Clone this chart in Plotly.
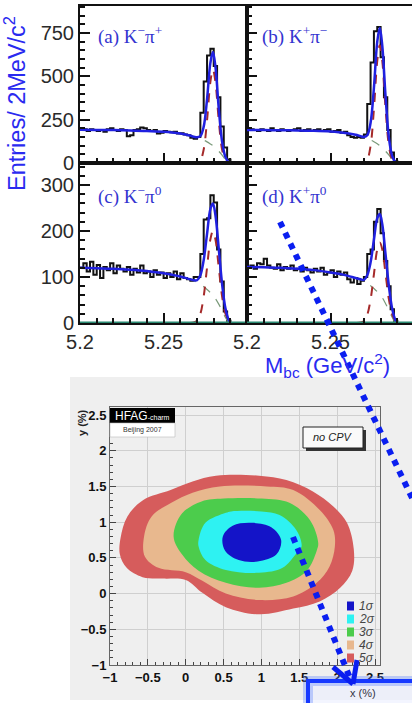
import plotly.graph_objects as go

W, H = 412, 703

# ---------------- data: Mbc histograms (2 MeV bins from 5.200) ----------------
bin_lo = 5.200
bin_w = 0.002
n_bins = 50

counts_a = [200, 195, 185, 195, 190, 185, 190, 180, 195, 200,
            190, 185, 195, 190, 155, 160, 190, 195, 205, 200,
            190, 185, 190, 170, 175, 185, 180, 178, 180, 170,
            172, 165, 160, 145, 140,
            150, 290, 470, 620, 660, 560, 380, 210, 90, 20,
            0, 0, 0, 0, 0]
counts_b = [190, 195, 190, 185, 195, 190, 185, 200, 190, 185,
            195, 190, 185, 190, 195, 200, 185, 190, 195, 185,
            190, 195, 185, 190, 195, 180, 185, 190, 175, 180,
            160, 150, 145, 150, 145,
            165, 340, 580, 760, 785, 610, 380, 190, 60, 10,
            0, 0, 0, 0, 0]
counts_c = [120, 130, 112, 133, 105, 126, 98, 122, 115, 130,
            108, 125, 118, 112, 122, 105, 118, 110, 125, 108,
            112, 100, 115, 105, 110, 98, 108, 100, 112, 95,
            108, 98, 95, 92, 100,
            100, 150, 225, 228, 278, 262, 160, 90, 25, 5,
            0, 0, 0, 0, 0]
counts_d = [120, 125, 118, 130, 128, 140, 125, 120, 118, 128,
            115, 122, 118, 125, 115, 118, 112, 120, 115, 110,
            118, 112, 120, 105, 110, 115, 100, 112, 105, 110,
            95, 88, 98, 85, 92,
            100, 150, 160, 220, 248, 195, 135, 80, 30, 5,
            0, 0, 0, 0, 0]

# ---------------- fit curves ----------------
fit_x = [5.200, 5.210, 5.220, 5.230, 5.240, 5.250, 5.255, 5.260, 5.265, 5.268,
         5.270, 5.272, 5.274, 5.276, 5.278, 5.2795, 5.281, 5.283, 5.285, 5.287,
         5.289, 5.290]

bkg_a = [192, 191, 190, 188, 185, 180, 176, 170, 160, 152, 146, 140, 132, 122, 110, 100, 88, 68, 45, 20, 2, 0]
sig_a = [0, 0, 0, 0, 0, 0, 0, 0, 0, 0, 2, 15, 78, 247, 468, 540, 468, 247, 78, 15, 2, 0]
tot_a = [192, 191, 190, 188, 185, 180, 176, 170, 160, 152, 148, 155, 210, 369, 578, 640, 556, 315, 123, 35, 4, 0]

bkg_b = [190, 190, 189, 188, 186, 182, 178, 172, 163, 155, 148, 141, 133, 123, 111, 100, 88, 68, 45, 20, 2, 0]
sig_b = [0, 0, 0, 0, 0, 0, 0, 0, 0, 0, 2, 19, 99, 311, 589, 680, 589, 311, 99, 19, 2, 0]
tot_b = [190, 190, 189, 188, 186, 182, 178, 172, 163, 155, 150, 160, 232, 434, 700, 780, 677, 379, 144, 39, 4, 0]

bkg_c = [120, 119, 118, 116, 113, 108, 105, 101, 96, 92, 88, 84, 79, 73, 66, 60, 53, 41, 27, 12, 1, 0]
sig_c = [0, 0, 0, 0, 0, 0, 0, 0, 0, 1, 5, 20, 58, 121, 182, 200, 182, 121, 58, 20, 5, 0]
tot_c = [120, 119, 118, 116, 113, 108, 105, 101, 96, 93, 93, 104, 137, 194, 248, 260, 235, 162, 85, 32, 6, 0]

bkg_d = [122, 121, 120, 118, 115, 110, 107, 103, 98, 94, 90, 86, 81, 75, 68, 62, 55, 42, 28, 12, 1, 0]
sig_d = [0, 0, 0, 0, 0, 0, 0, 0, 0, 1, 4, 18, 51, 106, 160, 175, 160, 106, 51, 18, 4, 0]
tot_d = [122, 121, 120, 118, 115, 110, 107, 103, 98, 95, 94, 104, 132, 181, 228, 237, 215, 148, 79, 30, 5, 0]

panel_labels = ["(a) K<sup>−</sup>π<sup>+</sup>", "(b) K<sup>+</sup>π<sup>−</sup>",
                "(c) K<sup>−</sup>π<sup>0</sup>", "(d) K<sup>+</sup>π<sup>0</sup>"]

# ---------------- data: HFAG x-y contours (in %) ----------------
c5_x = [0.40, 0.97, 1.33, 1.68, 1.95, 2.13, 2.22, 2.20, 2.04, 1.77, 1.42, 0.97, 0.53, 0.22, 0.00, -0.30, -0.57, -0.78, -0.87, -0.86, -0.77, -0.56, -0.20, 0.09, 0.40]
c5_y = [1.65, 1.65, 1.59, 1.43, 1.22, 0.99, 0.62, 0.32, 0.08, -0.11, -0.21, -0.29, -0.19, 0.01, 0.19, 0.21, 0.23, 0.36, 0.55, 0.78, 1.08, 1.31, 1.45, 1.57, 1.65]

c4_x = [0.45, 1.07, 1.42, 1.77, 1.95, 1.97, 1.90, 1.73, 1.42, 0.97, 0.53, 0.22, 0.00, -0.36, -0.54, -0.55, -0.45, -0.19, 0.09, 0.45]
c4_y = [1.50, 1.50, 1.45, 1.17, 0.89, 0.66, 0.38, 0.15, -0.04, -0.09, 0.00, 0.18, 0.30, 0.36, 0.52, 0.80, 1.08, 1.27, 1.41, 1.50]

c3_x = [0.50, 1.00, 1.37, 1.64, 1.75, 1.73, 1.60, 1.33, 0.97, 0.53, 0.17, -0.05, -0.16, -0.05, 0.21, 0.50]
c3_y = [1.33, 1.33, 1.27, 1.03, 0.71, 0.60, 0.32, 0.15, 0.08, 0.15, 0.32, 0.55, 0.80, 1.12, 1.29, 1.33]

c2_x = [0.60, 1.00, 1.24, 1.46, 1.53, 1.46, 1.28, 0.97, 0.53, 0.26, 0.17, 0.17, 0.26, 0.53, 0.60]
c2_y = [1.15, 1.15, 1.10, 0.89, 0.66, 0.56, 0.36, 0.29, 0.33, 0.47, 0.66, 0.75, 0.99, 1.13, 1.15]

c1_x = [0.87, 1.13, 1.26, 1.20, 0.95, 0.70, 0.52, 0.49, 0.62, 0.87]
c1_y = [0.99, 0.93, 0.75, 0.55, 0.45, 0.47, 0.60, 0.80, 0.95, 0.99]

sigma_labels = ["1σ", "2σ", "3σ", "4σ", "5σ"]
sigma_colors = ["#1414c8", "#2ef2f2", "#4ccc4c", "#e8b88e", "#d65c5c"]

# ---------------- helpers ----------------
def px(x):
    return x / W

def py(y):
    return 1 - y / H

edges = [round(bin_lo + i * bin_w, 4) for i in range(n_bins + 1)]

fig = go.Figure()

panels = [("x", "y", counts_a, bkg_a, sig_a, tot_a),
          ("x2", "y2", counts_b, bkg_b, sig_b, tot_b),
          ("x3", "y3", counts_c, bkg_c, sig_c, tot_c),
          ("x4", "y4", counts_d, bkg_d, sig_d, tot_d)]

for i, (xa, ya, cnt, bk, sg, tt) in enumerate(panels):
    fig.add_trace(go.Scatter(x=edges, y=cnt + [cnt[-1]], mode="lines",
                             line=dict(shape="hv", color="#111111", width=2),
                             xaxis=xa, yaxis=ya, showlegend=False, hoverinfo="skip"))
    fig.add_trace(go.Scatter(x=fit_x, y=bk, mode="lines",
                             line=dict(shape="spline", color="#7a9a7a", width=1.2, dash="dash"),
                             xaxis=xa, yaxis=ya, showlegend=False, hoverinfo="skip"))
    fig.add_trace(go.Scatter(x=fit_x, y=sg, mode="lines",
                             line=dict(shape="spline", color="#a52a2a", width=2, dash="dash"),
                             xaxis=xa, yaxis=ya, showlegend=False, hoverinfo="skip"))
    fig.add_trace(go.Scatter(x=fit_x, y=tt, mode="lines",
                             line=dict(shape="spline", color="#2020e0", width=2.5),
                             xaxis=xa, yaxis=ya, showlegend=False, hoverinfo="skip"))
    if i >= 2:
        fig.add_trace(go.Scatter(x=[fit_x[0], 5.3], y=[0, 0], mode="lines",
                                 line=dict(color="#2a8a72", width=3),
                                 xaxis=xa, yaxis=ya, showlegend=False, hoverinfo="skip"))

# contours
for cx, cy, col in [(c5_x, c5_y, sigma_colors[4]), (c4_x, c4_y, sigma_colors[3]),
                    (c3_x, c3_y, sigma_colors[2]), (c2_x, c2_y, sigma_colors[1]),
                    (c1_x, c1_y, sigma_colors[0])]:
    fig.add_trace(go.Scatter(x=cx, y=cy, mode="lines", fill="toself", fillcolor=col,
                             line=dict(shape="spline", smoothing=1.0, width=0, color=col),
                             xaxis="x5", yaxis="y5", showlegend=False, hoverinfo="skip"))

# ---------------- axes ----------------
tick_font = dict(family="Liberation Sans, Arial", size=20, color="#2a2a2a")
dom_top = [py(163), py(6)]
dom_bot = [py(323), py(163)]
dom_left = [px(80), px(247)]
dom_right = [px(247), 1.0]

def xax(domain, rng, anchor, labels):
    return dict(domain=domain, range=rng, anchor=anchor, tick0=5.2, dtick=0.05, automargin=False,
                ticks="inside", ticklen=10, tickwidth=2, tickcolor="#111",
                minor=dict(tick0=5.2, dtick=0.01, ticks="inside", ticklen=5, tickwidth=1.5, tickcolor="#111"),
                showticklabels=labels, tickfont=tick_font, showline=True, mirror=True,
                linecolor="#111", linewidth=2, showgrid=False, zeroline=False)

def yax(domain, rng, anchor, dt, mdt, labels):
    return dict(domain=domain, range=rng, anchor=anchor, tick0=0, dtick=dt, automargin=False,
                ticks="inside", ticklen=10, tickwidth=2, tickcolor="#111",
                minor=dict(tick0=0, dtick=mdt, ticks="inside", ticklen=5, tickwidth=1.5, tickcolor="#111"),
                showticklabels=labels, tickfont=tick_font, showline=True, mirror=True,
                linecolor="#111", linewidth=2, showgrid=False, zeroline=False)

cfont = dict(family="Liberation Sans, Arial", size=13, color="#111", weight=700)

fig.update_layout(
    width=W, height=H, autosize=False,
    margin=dict(l=0, r=0, t=0, b=0, pad=0),
    paper_bgcolor="white", plot_bgcolor="white",
    xaxis=xax(dom_left, [5.2, 5.2999], "y", False),
    xaxis2=xax(dom_right, [5.2, 5.2988], "y2", False),
    xaxis3=xax(dom_left, [5.2, 5.2999], "y3", True),
    xaxis4=xax(dom_right, [5.2, 5.2988], "y4", True),
    yaxis=yax(dom_top, [0, 906], "x", 250, 50, True),
    yaxis2=yax(dom_top, [0, 906], "x2", 250, 50, False),
    yaxis3=yax(dom_bot, [0, 348], "x3", 100, 20, True),
    yaxis4=yax(dom_bot, [0, 348], "x4", 100, 20, False),
    xaxis5=dict(domain=[px(110), px(380)], range=[-1.0, 2.566], anchor="y5", automargin=False,
                tick0=-1, dtick=0.5, ticks="inside", ticklen=6, tickcolor="#444",
                minor=dict(tick0=-1, dtick=0.1, ticks="inside", ticklen=3, tickcolor="#444"),
                showgrid=True, gridcolor="#cfcfcf", gridwidth=1, zeroline=False,
                showline=True, mirror=True, linecolor="#666", linewidth=1,
                tickfont=cfont),
    yaxis5=dict(domain=[py(665), py(407)], range=[-1.0, 2.612], anchor="x5", automargin=False,
                tick0=-1, dtick=0.5, ticks="inside", ticklen=6, tickcolor="#444",
                minor=dict(tick0=-1, dtick=0.1, ticks="inside", ticklen=3, tickcolor="#444"),
                showgrid=True, gridcolor="#cfcfcf", gridwidth=1, zeroline=False,
                showline=True, mirror=True, linecolor="#666", linewidth=1,
                tickfont=cfont),
)

# ---------------- shapes ----------------
shapes = []
# gray screenshot background for lower chart
shapes.append(dict(type="rect", xref="paper", yref="paper", x0=px(70), x1=1.0, y0=py(700), y1=py(377),
                   fillcolor="#efefef", line=dict(width=0), layer="below"))
# HFAG logo boxes
shapes.append(dict(type="rect", xref="paper", yref="paper", x0=px(110), x1=px(175), y0=py(423), y1=py(408),
                   fillcolor="#000000", line=dict(width=0)))
shapes.append(dict(type="rect", xref="paper", yref="paper", x0=px(110), x1=px(175), y0=py(437), y1=py(423),
                   fillcolor="#ffffff", line=dict(width=0.6, color="#bbbbbb")))
# no CPV box with shadow
shapes.append(dict(type="rect", xref="paper", yref="paper", x0=px(306), x1=px(366), y0=py(451), y1=py(430),
                   fillcolor="#333333", line=dict(width=0)))
shapes.append(dict(type="rect", xref="paper", yref="paper", x0=px(303), x1=px(363), y0=py(448), y1=py(427),
                   fillcolor="#fafafa", line=dict(width=1, color="#222222")))
# sigma legend squares
for k, col in enumerate(sigma_colors):
    yc = 606 + 13 * k
    shapes.append(dict(type="rect", xref="paper", yref="paper", x0=px(347), x1=px(354),
                       y0=py(yc + 4.5), y1=py(yc - 4.5), fillcolor=col, line=dict(width=0)))
# highlighted x-axis title box
shapes.append(dict(type="rect", xref="paper", yref="paper", x0=px(308), x1=px(425), y0=py(715), y1=py(681),
                   fillcolor="rgba(235,238,255,0.6)", line=dict(width=10, color="rgba(90,130,255,0.35)")))
shapes.append(dict(type="rect", xref="paper", yref="paper", x0=px(308), x1=px(425), y0=py(715), y1=py(681),
                   fillcolor="rgba(0,0,0,0)", line=dict(width=4, color="#1638ff")))
# dotted blue pointer lines
shapes.append(dict(type="line", xref="paper", yref="paper", x0=px(280), y0=py(222), x1=px(414), y1=py(502),
                   line=dict(color="#0a1ef0", width=6, dash="dot")))
shapes.append(dict(type="line", xref="paper", yref="paper", x0=px(293), y0=py(537), x1=px(350), y1=py(678),
                   line=dict(color="#0a1ef0", width=6, dash="dot")))
shapes.append(dict(type="line", xref="paper", yref="paper", x0=px(333), y0=py(667), x1=px(353), y1=py(684),
                   line=dict(color="#0a1ef0", width=5)))
shapes.append(dict(type="line", xref="paper", yref="paper", x0=px(353), y0=py(684), x1=px(357), y1=py(660),
                   line=dict(color="#0a1ef0", width=5)))
fig.update_layout(shapes=shapes)

# ---------------- annotations ----------------
ann = []
label_pos = [(96, 35), (260, 35), (96, 195), (260, 195)]
for lab, (lx, ly) in zip(panel_labels, label_pos):
    ann.append(dict(text=lab, xref="paper", yref="paper", x=px(lx), y=py(ly), xanchor="left", yanchor="middle",
                    showarrow=False, font=dict(family="Liberation Serif, Times New Roman", size=19, color="#3434d0")))
ann.append(dict(text="Entries/ 2MeV/c<sup>2</sup>", xref="paper", yref="paper", x=px(15), y=py(104),
                textangle=-90, showarrow=False, xanchor="center", yanchor="middle",
                font=dict(family="Liberation Sans, Arial", size=23.5, color="#2a2af0")))
ann.append(dict(text="M<sub>bc</sub> (GeV/c<sup>2</sup>)", xref="paper", yref="paper", x=px(263), y=py(366),
                xanchor="left", yanchor="middle", showarrow=False,
                font=dict(family="Liberation Sans, Arial", size=22, color="#2a2af0")))
ann.append(dict(text="y (%)", xref="paper", yref="paper", x=px(82), y=py(423), textangle=-90,
                showarrow=False, xanchor="center", yanchor="middle",
                font=dict(family="Liberation Sans, Arial", size=11, color="#222", weight=700)))
ann.append(dict(text="HFAG<span style='font-size:7px'>-charm</span>", xref="paper", yref="paper",
                x=px(142.5), y=py(415.5), showarrow=False, xanchor="center", yanchor="middle",
                font=dict(family="Liberation Sans, Arial", size=12, color="#ffffff")))
ann.append(dict(text="Beijing 2007", xref="paper", yref="paper", x=px(142.5), y=py(430),
                showarrow=False, xanchor="center", yanchor="middle",
                font=dict(family="Liberation Sans, Arial", size=7, color="#333")))
ann.append(dict(text="<i>no CPV</i>", xref="paper", yref="paper", x=px(333), y=py(437.5),
                showarrow=False, xanchor="center", yanchor="middle",
                font=dict(family="Liberation Sans, Arial", size=11, color="#222")))
for k, lab in enumerate(sigma_labels):
    ann.append(dict(text="<i>" + lab + "</i>", xref="paper", yref="paper", x=px(357), y=py(606 + 13 * k),
                    showarrow=False, xanchor="left", yanchor="middle",
                    font=dict(family="Liberation Sans, Arial", size=12, color="#444")))
ann.append(dict(text="x (%)", xref="paper", yref="paper", x=px(363), y=py(693),
                showarrow=False, xanchor="center", yanchor="middle",
                font=dict(family="Liberation Sans, Arial", size=11, color="#334")))
fig.update_layout(annotations=ann)

fig.write_html("out.html", config={"displayModeBar": False},
               post_script="document.body.style.margin='0px';document.body.style.overflow='hidden';")
